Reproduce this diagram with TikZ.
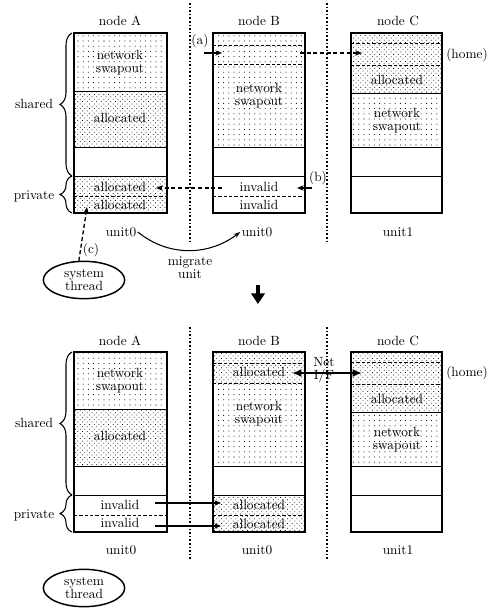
\documentclass[tikz,border=0pt]{standalone}
\usepackage{tikz}
\usetikzlibrary{patterns.meta,decorations.pathreplacing,arrows.meta,shapes.geometric}

\begin{document}
\begin{tikzpicture}[x=0.75pt,y=-0.75pt,
    txt/.style={inner sep=1pt,align=center,font=\fontsize{10}{9.8}\selectfont},
    swapfill/.style={pattern={Dots[distance=3.9pt,radius=0.4pt]}},
    allocfill/.style={pattern={Dots[distance=2.5pt,angle=45,radius=0.4pt]}},
    unitframe/.style={line width=1.5pt},
    sepline/.style={line width=0.5pt},
    sepdash/.style={line width=0.5pt,dash pattern=on 2.5pt off 1.5pt},
    divider/.style={line width=1.1pt,dash pattern=on 1.2pt off 1.5pt},
    sysbox/.style={draw,ellipse,line width=1.1pt,minimum width=61pt,minimum height=28pt,inner sep=0pt,align=center,font=\fontsize{10}{9.8}\selectfont},
    dasharrow/.style={line width=1pt,dash pattern=on 3pt off 2pt,-{Stealth[length=5pt,width=4pt]}},
    solidarrow/.style={line width=1pt,-{Stealth[length=5pt,width=4pt]}},
    lbrace/.style={decorate,decoration={brace,amplitude=9pt},line width=0.8pt}]
\useasboundingbox (0,0) rectangle (492,613);

% ---------- before migration ----------
\node[txt] (nA) at (120,21) {node A};
\node[txt] (nB) at (259,21) {node B};
\node[txt] (nC) at (398,21) {node C};
\draw[divider] (190,3) -- (190,242);
\draw[divider] (327,3) -- (327,242);

% node A
\path[swapfill] (74,33) rectangle (167,91);
\path[allocfill] (74,91) rectangle (167,147);
\path[allocfill] (74,176) rectangle (167,213);
\draw[sepline] (74,91) -- (167,91) (74,147) -- (167,147) (74,176) -- (167,176);
\draw[sepdash] (74,196) -- (167,196);
\draw[unitframe] (74,33) rectangle (167,213);
\node[txt] (A1) at (120,63) {network\\swapout};
\node[txt] (A2) at (120,118) {allocated};
\node[txt] (A3) at (120,187) {allocated};
\node[txt] (A4) at (120,205) {allocated};

% node B
\path[swapfill] (213,33) rectangle (305,147);
\draw[sepdash] (213,45) -- (305,45) (213,64) -- (305,64);
\draw[sepline] (213,147) -- (305,147) (213,176) -- (305,176);
\draw[sepdash] (213,196) -- (305,196);
\draw[unitframe] (213,33) rectangle (305,213);
\node[txt] (B1) at (259,96) {network\\swapout};
\node[txt] (B2) at (259,187) {invalid};
\node[txt] (B3) at (259,205) {invalid};

% node C
\path[allocfill] (351,33) rectangle (442,93);
\path[swapfill] (351,93) rectangle (442,147);
\draw[sepdash] (351,43) -- (442,43) (351,65) -- (442,65);
\draw[sepline] (351,93) -- (442,93) (351,147) -- (442,147) (351,176) -- (442,176);
\draw[unitframe] (351,33) rectangle (442,213);
\node[txt] (C1) at (397,80) {allocated};
\node[txt] (C2) at (397,121) {network\\swapout};
\node[txt] (home) at (467,55) {(home)};

% shared / private
\draw[lbrace] (72,176) -- (72,33);
\draw[lbrace] (72,213) -- (72,176);
\node[txt] (shared) at (34,104) {shared};
\node[txt] (private) at (34,196) {private};

% units
\node[txt] (uA) at (121,232) {unit0};
\node[txt] (uB) at (257,232) {unit0};
\node[txt] (uC) at (398,232) {unit1};
\draw[line width=0.8pt,-{Stealth[length=5pt,width=3.5pt]}] (uA.east) .. controls (170,258) and (210,255) .. (uB.west);
\node[txt] (mig) at (190,268) {migrate\\unit};

% (a) (b) (c)
\node[txt] (a) at (200,41) {(a)};
\coordinate (a0) at (204,53);
\coordinate (a1) at (222,53);
\coordinate (a2) at (300,53);
\coordinate (a3) at (362,53);
\draw[solidarrow] (a0) -- (a1);
\draw[dasharrow] (a2) -- (a3);
\node[txt] (b) at (318,178) {(b)};
\coordinate (b0) at (312,188);
\coordinate (b1) at (297,188);
\coordinate (b2) at (222,188);
\coordinate (b3) at (156,188);
\draw[solidarrow] (b0) -- (b1);
\draw[dasharrow] (b2) -- (b3);
\node[sysbox] (sys) at (84,280) {system\\thread};
\node[txt] (c) at (91,250) {(c)};
\coordinate (c1) at (87,207);
\draw[dasharrow] (sys.105) -- (c1);

% down arrow
\coordinate (dn0) at (258,285);
\coordinate (dn1) at (258,304);
\draw[line width=3pt,-{Triangle[length=8pt,width=10pt]}] (dn0) -- (dn1);

% ---------- after migration ----------
\begin{scope}[shift={(0,319)}]
\node[txt] (nA') at (120,22) {node A};
\node[txt] (nB') at (259,22) {node B};
\node[txt] (nC') at (398,22) {node C};
\draw[divider] (190,8) -- (190,241);
\draw[divider] (327,8) -- (327,241);

% node A
\path[swapfill] (74,33) rectangle (167,90);
\path[allocfill] (74,90) rectangle (167,147);
\draw[sepline] (74,90) -- (167,90) (74,147) -- (167,147) (74,176) -- (167,176);
\draw[sepdash] (74,196) -- (167,196);
\draw[unitframe] (74,33) rectangle (167,213);
\node[txt] (A1') at (120,62) {network\\swapout};
\node[txt] (A2') at (120,117) {allocated};
\node[txt] (A3') at (120,186) {invalid};
\node[txt] (A4') at (120,204) {invalid};

% node B
\path[allocfill] (213,33) rectangle (305,64);
\path[swapfill] (213,64) rectangle (305,147);
\path[allocfill] (213,176) rectangle (305,213);
\draw[sepdash] (213,44) -- (305,44) (213,64) -- (305,64);
\draw[sepline] (213,147) -- (305,147) (213,176) -- (305,176);
\draw[sepdash] (213,196) -- (305,196);
\draw[unitframe] (213,33) rectangle (305,213);
\node[txt] (B1') at (259,53) {allocated};
\node[txt] (B2') at (259,95) {network\\swapout};
\node[txt] (B3') at (259,186) {allocated};
\node[txt] (B4') at (259,205) {allocated};

% node C
\path[allocfill] (351,33) rectangle (442,93);
\path[swapfill] (351,93) rectangle (442,147);
\draw[sepdash] (351,43) -- (442,43) (351,65) -- (442,65);
\draw[sepline] (351,93) -- (442,93) (351,147) -- (442,147) (351,176) -- (442,176);
\draw[unitframe] (351,33) rectangle (442,213);
\node[txt] (C1') at (397,80) {allocated};
\node[txt] (C2') at (397,121) {network\\swapout};
\node[txt] (home') at (467,54) {(home)};

% shared / private
\draw[lbrace] (72,176) -- (72,33);
\draw[lbrace] (72,213) -- (72,176);
\node[txt] (shared') at (34,104) {shared};
\node[txt] (private') at (34,196) {private};

\node[txt] (uA') at (121,231) {unit0};
\node[txt] (uB') at (257,231) {unit0};
\node[txt] (uC') at (398,231) {unit1};

% Net I/F
\node[txt] (net) at (324,51) {Net\\I/F};
\coordinate (n0) at (292,54);
\coordinate (n1) at (362,54);
\draw[line width=2pt,{Latex[length=7pt,width=6pt]}-{Latex[length=7pt,width=6pt]}] (n0) -- (n1);
\coordinate (m0) at (155,184);
\coordinate (m1) at (221,184);
\coordinate (m2) at (155,207);
\coordinate (m3) at (221,207);
\draw[solidarrow] (m0) -- (m1);
\draw[solidarrow] (m2) -- (m3);

\node[sysbox] (sys') at (84,269) {system\\thread};
\end{scope}
\end{tikzpicture}
\end{document}
